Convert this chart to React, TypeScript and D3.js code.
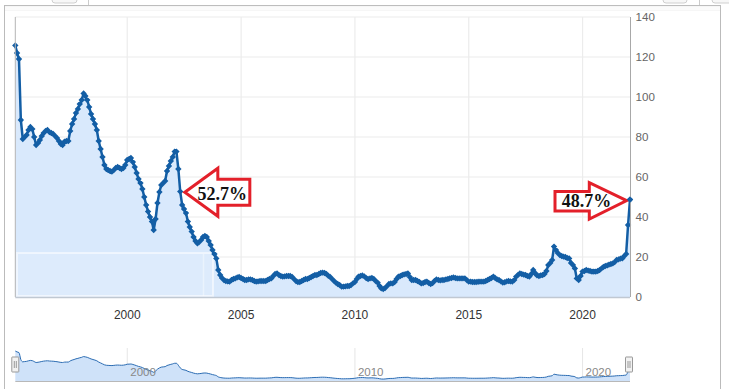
import React from "react";
import * as d3 from "d3";

const START_YEAR = 1995;
const vals1995to1999 = [
  125.8, 122, 119, 88.5, 79, 80, 81, 83.5, 85, 84, 80, 76,
  77, 78.5, 80.5, 82, 83, 83.5, 82.5, 82, 81.5, 80.5, 79.5, 78,
  76.5, 76, 77.7, 78, 78, 83, 86.5, 89, 92, 94, 96.5, 98.5,
  101.8, 100.5, 98.5, 95, 91.5, 89, 86.5, 83.5, 78, 74, 70, 66,
  64, 63.5, 63, 62.7, 63.5, 64.5, 65, 64.5, 64, 64.5, 66, 68.5,
];
const vals2000to2004 = [
  69, 69.5, 67.5, 65, 62, 59, 57, 54, 50, 46, 42.7, 40,
  37.7, 33.5, 39, 47, 52.5, 56, 57, 58, 63, 65.5, 68, 70,
  72.7, 72.7, 64, 52.7, 46, 44, 42, 37.7, 35, 32.7, 30, 28,
  26.8, 27.5, 28.5, 30, 30.5, 30, 28, 26, 23.5, 21.5, 19.3, 13.5,
  11, 9.5, 8.5, 8, 7.8, 7.7, 8.5, 9, 9.3, 9.8, 10, 9.5,
];
const vals2005to2009 = [
  9, 8.5, 8.5, 8.8, 8.8, 8.5, 8, 7.7, 7.8, 8, 8, 8,
  8, 8.5, 9, 9.3, 10.5, 11.5, 11.8, 11, 10.5, 10.2, 10.3, 10.5,
  10.5, 10.5, 10, 9, 8, 7.5, 7.5, 8, 8.5, 9, 9, 9.5,
  10, 10.5, 11, 11, 11.5, 12, 12.2, 12, 11.5, 10.6, 10, 9,
  8, 7.2, 6.5, 6, 5.2, 5.2, 5.3, 5.5, 5.5, 6, 6.8, 7.5,
];
const vals2010to2014 = [
  9, 10.2, 10.5, 10.8, 10.3, 9.5, 9, 9.3, 9.5, 9, 8, 7.2,
  5.5, 4.3, 4, 4.5, 5.5, 6.5, 6.8, 6.8, 7.5, 9, 10.2, 10.5,
  11, 11.3, 11.5, 11.8, 10, 8.5, 8.5, 8.5, 8, 7.5, 6.8, 7,
  7.5, 7.7, 7, 6.5, 7, 8, 8.8, 8.5, 8.3, 8.5, 8.5, 8.8,
  9, 9.3, 9.5, 9.8, 9.5, 9.3, 9.3, 9.3, 9.3, 9.3, 8.5, 7.7,
];
const vals2015to2019 = [
  7.7, 7.5, 7.5, 7.5, 7.6, 7.7, 7.7, 7.7, 8, 8.5, 9, 9.5,
  10.2, 9.5, 8.8, 8.5, 7.8, 7.2, 7.4, 7.8, 8, 7.8, 7.7, 8.5,
  10.2, 11, 11.8, 11.5, 11.2, 11, 10.5, 10.2, 11.5, 13.5, 12, 10.8,
  10.5, 10.8, 11, 11.5, 13, 16, 17, 18.5, 25.2, 23.5, 22, 21,
  20.5, 20.2, 20, 19.5, 19.3, 17, 16, 14.3, 9.3, 8.5, 10.5, 12.7,
];
const vals2020to2022 = [
  13, 13.5, 13.2, 13, 12.7, 12.7, 12.7, 13, 13.5, 14.3, 15, 15.5,
  15.8, 16.2, 16.5, 16.8, 17.5, 18.5, 18.8, 19.2, 19.3, 20.5, 21.5, 36,
  48.7,
];

const yTicks = [0, 20, 40, 60, 80, 100, 120, 140];
const xTickYears = [2000, 2005, 2010, 2015, 2020];
const navTickYears = [2000, 2010, 2020];
const annotationLabels = ["52.7%", "48.7%"];
const annotationIndexes = [87, 324];

const values = [
  ...vals1995to1999,
  ...vals2000to2004,
  ...vals2005to2009,
  ...vals2010to2014,
  ...vals2015to2019,
  ...vals2020to2022,
];
const data = values.map((v, i) => ({ date: new Date(START_YEAR, i + 1, 0), value: v }));

const W = 729;
const H = 389;
const PL = 15.3;
const PR = 630;
const PT = 17;
const PB = 297;
const NAV_TOP = 348;
const NAV_BOT = 381;

const LINE = "#135ea5";
const FILL = "#d9e9fc";

export default function App() {
  const x = d3.scaleTime().domain([data[0].date, data[data.length - 1].date]).range([PL, PR]);
  const y = d3.scaleLinear().domain([0, 140]).range([PB, PT]);
  const ny = d3.scaleLinear().domain([0, 126]).range([380, 351]);

  const line = d3.line<any>().x((d) => x(d.date)).y((d) => y(d.value));
  const area = d3.area<any>().x((d) => x(d.date)).y0(PB).y1((d) => y(d.value));
  const nline = d3.line<any>().x((d) => x(d.date)).y((d) => ny(d.value)).curve(d3.curveMonotoneX);
  const narea = d3
    .area<any>()
    .x((d) => x(d.date))
    .y0(NAV_BOT)
    .y1((d) => ny(d.value))
    .curve(d3.curveMonotoneX);

  const r = 3.2;
  const diamonds = data
    .map((d) => {
      const cx = x(d.date);
      const cy = y(d.value);
      return `M${cx},${cy - r}L${cx + r},${cy}L${cx},${cy + r}L${cx - r},${cy}Z`;
    })
    .join("");

  const yearX = (yr: number) => x(new Date(yr, 0, 1));

  const p0 = data[annotationIndexes[0]];
  const t0x = x(p0.date) + 4.6;
  const t0y = y(p0.value) + 0.6;
  const arrowLeft = [
    [0, 0], [33, -24], [33, -13], [65, -13], [65, 13], [33, 13], [33, 24],
  ]
    .map(([dx, dy]) => `${t0x + dx},${t0y + dy}`)
    .join(" ");
  const p1 = data[annotationIndexes[1]];
  const t1x = x(p1.date) - 3.3;
  const t1y = y(p1.value) + 1;
  const arrowRight = [
    [0, 0], [-37.4, -18], [-37.4, -9], [-71.7, -9], [-71.7, 10.5], [-37.4, 10.5], [-37.4, 18.5],
  ]
    .map(([dx, dy]) => `${t1x + dx},${t1y + dy}`)
    .join(" ");

  const handle = (hx: number) => (
    <g>
      <rect x={hx - 3.5} y={357} width={7} height={15} fill="#f2f2f2" stroke="#999" strokeWidth={1} rx={0.5} />
      <line x1={hx - 1} x2={hx - 1} y1={361} y2={368} stroke="#999" />
      <line x1={hx + 1} x2={hx + 1} y1={361} y2={368} stroke="#999" />
    </g>
  );

  return (
    <svg
      width={W}
      height={H}
      style={{ position: "absolute", left: 0, top: 0, fontFamily: "'Liberation Sans', Arial, sans-serif" }}
    >
      <rect x={0} y={0} width={W} height={H} fill="#fff" />
      <rect x={4} y={5} width={717} height={6} fill="#f6f6f6" />
      <rect x={4} y={7} width={717} height={3} fill="#fbfbfb" />
      <line x1={4} x2={721} y1={5.5} y2={5.5} stroke="#bdbdbd" />
      <rect x={52} y={-8} width={25} height={11} rx={3} fill="#f7f7f7" stroke="#cfcfcf" />
      <rect x={663} y={-8} width={24} height={11} rx={3} fill="#f7f7f7" stroke="#cfcfcf" />
      <rect x={712} y={-8} width={22} height={11} rx={3} fill="#f7f7f7" stroke="#cfcfcf" />
      <line x1={88.5} x2={88.5} y1={0} y2={5} stroke="#ccc" />
      <line x1={699.5} x2={699.5} y1={0} y2={5} stroke="#ccc" />
      <line x1={4.5} x2={4.5} y1={5} y2={H} stroke="#bbb" />
      <line x1={720.5} x2={720.5} y1={5} y2={H} stroke="#bbb" />

      {yTicks.map((t) => (
        <line key={"gy" + t} x1={PL} x2={PR} y1={y(t)} y2={y(t)} stroke="#ececec" strokeWidth={1.2} />
      ))}
      {xTickYears.map((yr) => (
        <line key={"gx" + yr} x1={yearX(yr)} x2={yearX(yr)} y1={PT} y2={PB} stroke="#ececec" strokeWidth={1.2} />
      ))}

      <path d={area(data) || ""} fill={FILL} />
      <rect x={17} y={253} width={196} height={43} fill="#ffffff" fillOpacity={0.12} stroke="#ffffff" strokeOpacity={0.55} strokeWidth={2} />
      <line x1={203.5} x2={203.5} y1={254} y2={296} stroke="#ffffff" strokeOpacity={0.4} strokeWidth={1.5} />
      <path d={line(data) || ""} fill="none" stroke={LINE} strokeWidth={2.5} strokeLinejoin="round" />
      <path d={diamonds} fill={LINE} />

      <line x1={PL} x2={PL} y1={PT} y2={PB} stroke="#b5b5b5" />
      <line x1={PL} x2={PR} y1={PB + 0.5} y2={PB + 0.5} stroke="#c0c8d2" strokeWidth={1.5} />
      <line x1={PR + 0.5} x2={PR + 0.5} y1={PT} y2={PB} stroke="#a8a8a8" />

      {yTicks.map((t) => (
        <text key={"yl" + t} x={635.5} y={y(t) + 4} fontSize={11.6} fill="#666">
          {t}
        </text>
      ))}
      {xTickYears.map((yr) => (
        <text key={"xl" + yr} x={yearX(yr)} y={319} fontSize={12} fill="#333" textAnchor="middle">
          {yr}
        </text>
      ))}

      <polygon points={arrowLeft} fill="#fff" stroke="#e3202a" strokeWidth={3} strokeLinejoin="miter" />
      <text x={t0x + 12.7} y={t0y + 8} fontSize={18} fontWeight="bold" fontFamily="'Liberation Serif', 'Times New Roman', serif" fill="#111">
        {annotationLabels[0]}
      </text>
      <polygon points={arrowRight} fill="#fff" stroke="#e3202a" strokeWidth={3} strokeLinejoin="miter" />
      <text x={t1x - 65} y={t1y + 6.5} fontSize={18} fontWeight="bold" fontFamily="'Liberation Serif', 'Times New Roman', serif" fill="#111">
        {annotationLabels[1]}
      </text>
      <path d={`M${x(p1.date) - r},${y(p1.value)}L${x(p1.date)},${y(p1.value) - r}L${x(p1.date) + r},${y(p1.value)}L${x(p1.date)},${y(p1.value) + r}Z`} fill={LINE} />

      {navTickYears.map((yr) => (
        <line key={"ng" + yr} x1={yearX(yr)} x2={yearX(yr)} y1={NAV_TOP} y2={NAV_BOT} stroke="#e6e6e6" />
      ))}
      <path d={narea(data) || ""} fill="#cfe2f9" />
      <path d={nline(data) || ""} fill="none" stroke="#2b6cb3" strokeWidth={1} />
      {navTickYears.map((yr) => (
        <text key={"nl" + yr} x={yearX(yr) + 3} y={376} fontSize={11.5} fill="#888">
          {yr}
        </text>
      ))}
      <line x1={PL} x2={PR} y1={NAV_BOT + 0.5} y2={NAV_BOT + 0.5} stroke="#b8b8b8" />
      {handle(PL)}
      {handle(629)}
    </svg>
  );
}
